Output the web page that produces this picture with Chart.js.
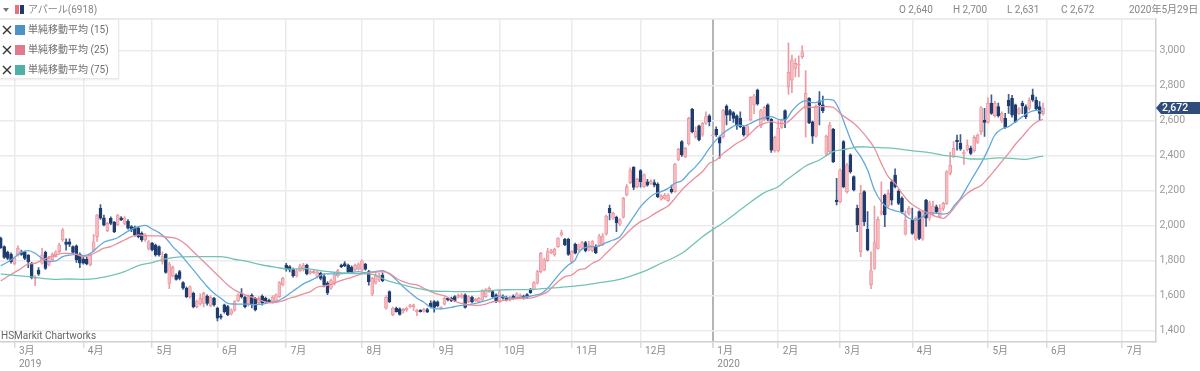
<!DOCTYPE html>
<html lang="ja">
<head>
<meta charset="utf-8">
<title>アパール(6918)</title>
<script src="https://cdn.jsdelivr.net/npm/chart.js@4"></script>
<style>
html,body{margin:0;padding:0;background:#fff;width:1200px;height:371px;overflow:hidden}
#wrap{position:relative;width:1200px;height:371px;font-family:Roboto,"Noto Sans CJK JP",sans-serif}
canvas{position:absolute;left:0;top:0}
.h{position:absolute;top:1.5px;font-size:10px;line-height:15px;color:#858585;white-space:nowrap}
#tri{position:absolute;left:3px;top:8px;width:0;height:0;border-left:3px solid transparent;border-right:3px solid transparent;border-top:4px solid #777}
#sw{position:absolute;left:15px;top:5px;width:9px;height:9px;background:linear-gradient(90deg,#e8707c 0 50%,#fff 50% 58%,#22396c 58% 100%)}
#legend{position:absolute;left:-1px;top:19px;width:120px;height:60px;background:#fff;border:1px solid #e8e8e8;box-shadow:0 1px 2px rgba(0,0,0,.08);box-sizing:border-box}
.row{position:absolute;left:0;height:20px;width:118px;color:#6e6e6e;font-size:10px;line-height:20px;white-space:nowrap}
.row svg{position:absolute;left:2px;top:5px}
.row i{position:absolute;left:15px;top:5px;width:10px;height:10px}
.row span{position:absolute;left:28px;top:0}
#credit{position:absolute;left:1px;top:329px;font-size:10px;line-height:14px;color:#666;white-space:nowrap}
</style>
</head>
<body>
<div id="wrap">
<canvas id="c" width="1200" height="371"></canvas>
<div id="tri"></div><div id="sw"></div>
<div class="h" style="left:28px">アパール(6918)</div>
<div class="h" style="left:899px">O 2,640</div>
<div class="h" style="left:953px">H 2,700</div>
<div class="h" style="left:1007px">L 2,631</div>
<div class="h" style="left:1061px">C 2,672</div>
<div class="h" style="left:1129px">2020年5月29日</div>
<div id="legend">
<div class="row" style="top:0"><svg width="10" height="10"><path d="M1 1L9 9M9 1L1 9" stroke="#333" stroke-width="1.4"/></svg><i style="background:#4a94c8"></i><span>単純移動平均 (15)</span></div>
<div class="row" style="top:20px"><svg width="10" height="10"><path d="M1 1L9 9M9 1L1 9" stroke="#333" stroke-width="1.4"/></svg><i style="background:#e07a8c"></i><span>単純移動平均 (25)</span></div>
<div class="row" style="top:39.5px"><svg width="10" height="10"><path d="M1 1L9 9M9 1L1 9" stroke="#333" stroke-width="1.4"/></svg><i style="background:#4fb0a5"></i><span>単純移動平均 (75)</span></div>
</div>
<div id="credit">HSMarkit Chartworks</div>
</div>
<script>
// Trading-day index of the first candle (day 0 is the first trading day of March 2019)
const firstDay = -4;
const opens = [
1927,1880,1847,1836,1781,1832,1847,1847,1832,1785,
1699,1746,1785,1847,1775,1804,1823,1851,1918,1908,
1908,1880,1884,1836,1809,1809,1775,1855,1937,2099,
2045,1971,2042,2019,2004,2045,2013,2026,1994,1990,
1988,1956,1918,1870,1899,1889,1880,1794,1836,1670,
1712,1718,1737,1674,1642,1594,1613,1537,1552,1556,
1598,1541,1585,1528,1484,1547,1537,1495,1518,1571,
1613,1591,1547,1602,1585,1560,1598,1585,1575,1566,
1566,1594,1661,1775,1766,1751,1712,1743,1747,1775,
1728,1731,1709,1728,1709,1670,1642,1670,1712,1775,
1783,1775,1762,1747,1751,1747,1781,1737,1608,1671,
1690,1718,1528,1623,1490,1528,1524,1514,1520,1537,
1537,1509,1516,1511,1520,1556,1566,1564,1527,1551,
1585,1585,1594,1591,1591,1604,1566,1591,1570,1566,
1575,1594,1623,1623,1604,1566,1598,1591,1575,1598,
1589,1594,1598,1606,1636,1636,1671,1737,1747,1800,
1846,1833,1880,1947,1922,1922,1794,1895,1861,1871,
1903,1861,1857,1880,1884,1890,1951,2099,2042,2048,
2008,2048,2175,2246,2333,2223,2314,2223,2251,2242,
2246,2238,2151,2156,2143,2208,2194,2379,2480,2394,
2467,2665,2509,2570,2518,2585,2627,2514,2550,2505,
2509,2684,2657,2646,2627,2613,2562,2518,2604,2690,
2775,2570,2604,2690,2608,2428,2428,2562,2657,2794,
2832,2899,2918,2966,2670,2728,2594,2512,2714,2690,
2409,2423,2550,2146,2137,2480,2194,2404,2280,2099,
1851,2194,1979,1661,1756,1870,2070,2175,2115,2251,
2289,2198,2156,1952,2070,2032,1922,2080,1922,2146,
2042,2066,2108,2051,2099,2127,2299,2394,2489,2471,
2408,2433,2442,2427,2476,2537,2604,2590,2699,2629,
2680,2598,2613,2718,2728,2690,2642,2699,2680,2671,
2747,2718,2680,2640];
const highs = [
1935,1885,1855,1845,1820,1885,1860,1855,1835,1790,
1715,1760,1870,1855,1825,1845,1856,1900,1985,1925,
1925,1885,1890,1845,1830,1820,1840,1950,2065,2120,
2060,2020,2050,2025,2065,2052,2052,2035,2000,1998,
1995,1965,1955,1915,1905,1895,1885,1850,1840,1790,
1770,1725,1745,1680,1650,1656,1620,1575,1610,1620,
1605,1600,1590,1535,1495,1552,1545,1525,1572,1610,
1640,1598,1605,1610,1590,1595,1605,1592,1580,1600,
1610,1680,1705,1785,1772,1758,1750,1780,1785,1780,
1745,1745,1745,1735,1720,1680,1695,1725,1750,1780,
1795,1780,1770,1780,1788,1805,1785,1745,1705,1730,
1728,1730,1600,1628,1535,1535,1530,1528,1535,1550,
1552,1522,1520,1527,1527,1570,1572,1570,1538,1590,
1590,1592,1600,1610,1612,1610,1600,1597,1585,1590,
1635,1640,1650,1630,1610,1630,1605,1597,1597,1605,
1617,1610,1603,1612,1642,1680,1745,1848,1815,1870,
1865,1872,1932,1975,1928,1928,1858,1900,1895,1910,
1910,1910,1915,1890,1950,1955,2060,2118,2078,2055,
2040,2162,2235,2330,2337,2272,2320,2296,2265,2262,
2262,2245,2178,2185,2182,2232,2356,2442,2486,2448,
2620,2670,2565,2575,2590,2650,2635,2522,2565,2512,
2665,2690,2665,2652,2633,2650,2570,2578,2738,2750,
2780,2665,2682,2696,2612,2512,2600,2610,2662,3045,
2975,2955,2970,3028,2886,2732,2598,2690,2766,2741,
2518,2590,2556,2270,2325,2486,2356,2410,2285,2118,
2230,2200,2080,1850,2112,2050,2250,2180,2205,2262,
2325,2205,2165,2085,2110,2100,2050,2085,2088,2150,
2140,2140,2118,2120,2135,2315,2420,2480,2518,2520,
2432,2490,2455,2515,2525,2680,2670,2730,2747,2710,
2700,2650,2642,2750,2745,2695,2675,2712,2690,2730,
2781,2735,2709,2700];
const lows = [
1870,1812,1805,1785,1775,1825,1830,1805,1760,1695,
1657,1715,1780,1750,1770,1795,1820,1845,1910,1860,
1880,1840,1790,1760,1780,1775,1770,1850,1910,2035,
1998,1965,2005,1960,2000,2028,2005,1980,1965,1940,
1930,1910,1910,1860,1855,1825,1825,1780,1728,1640,
1705,1688,1690,1635,1588,1585,1530,1530,1545,1535,
1545,1535,1540,1455,1465,1500,1485,1490,1510,1565,
1585,1530,1540,1530,1512,1550,1545,1560,1560,1555,
1560,1590,1655,1740,1735,1705,1705,1738,1740,1718,
1722,1725,1700,1690,1650,1605,1635,1660,1705,1760,
1765,1730,1730,1740,1745,1740,1745,1660,1600,1665,
1680,1680,1522,1560,1485,1505,1488,1500,1510,1530,
1515,1485,1505,1505,1502,1530,1505,1535,1522,1545,
1570,1565,1565,1585,1585,1528,1560,1558,1565,1560,
1570,1590,1618,1590,1560,1560,1580,1570,1570,1580,
1584,1590,1580,1586,1612,1632,1665,1730,1742,1795,
1840,1825,1875,1940,1885,1830,1785,1838,1855,1865,
1850,1855,1850,1840,1880,1885,1945,2032,2036,1965,
2000,2042,2170,2240,2205,2216,2220,2218,2225,2235,
2222,2160,2145,2150,2138,2185,2190,2372,2395,2388,
2460,2530,2498,2484,2510,2578,2570,2510,2510,2385,
2500,2575,2600,2590,2550,2560,2512,2512,2598,2640,
2688,2560,2598,2600,2418,2420,2422,2555,2560,2750,
2760,2850,2850,2955,2505,2583,2470,2505,2575,2645,
2400,2415,2360,2118,2130,2215,2185,2300,2198,1965,
1822,2000,1855,1640,1750,1865,2060,1994,2105,2118,
2215,2120,2070,1945,2060,1950,1915,1920,1915,1995,
2030,2055,2070,2045,2085,2120,2290,2388,2432,2430,
2350,2425,2405,2420,2470,2520,2510,2585,2635,2620,
2620,2590,2555,2642,2620,2588,2635,2640,2612,2660,
2710,2660,2604,2631];
const closes = [
1874,1819,1813,1794,1813,1870,1836,1813,1794,1703,
1708,1722,1832,1756,1813,1836,1851,1889,1975,1893,
1893,1847,1804,1785,1785,1781,1832,1908,2061,2042,
2003,2013,2013,1965,2061,2032,2045,1985,1975,1946,
1937,1918,1946,1908,1861,1832,1832,1823,1733,1781,
1762,1693,1699,1642,1594,1651,1537,1566,1585,1613,
1556,1591,1547,1471,1476,1509,1490,1518,1566,1604,
1594,1537,1598,1547,1518,1585,1560,1566,1566,1591,
1604,1674,1699,1751,1747,1712,1741,1770,1775,1724,
1737,1739,1735,1699,1661,1617,1686,1718,1743,1766,
1770,1737,1737,1773,1781,1798,1751,1680,1699,1718,
1718,1686,1591,1566,1528,1509,1493,1522,1528,1543,
1547,1516,1509,1520,1507,1537,1533,1541,1533,1585,
1575,1570,1570,1602,1604,1533,1594,1564,1579,1585,
1629,1633,1642,1594,1566,1623,1585,1575,1591,1585,
1610,1602,1585,1591,1617,1674,1737,1842,1804,1852,
1857,1865,1928,1960,1890,1836,1852,1842,1890,1903,
1857,1890,1909,1846,1941,1941,2055,2074,2070,2017,
2033,2156,2223,2318,2219,2265,2251,2290,2232,2253,
2232,2166,2170,2175,2175,2194,2352,2436,2404,2442,
2613,2537,2537,2490,2585,2623,2594,2518,2518,2471,
2657,2632,2632,2613,2570,2566,2518,2570,2733,2741,
2695,2657,2676,2608,2432,2505,2556,2604,2604,2876,
2947,2928,2924,2994,2756,2589,2512,2684,2690,2657,
2512,2575,2366,2137,2318,2223,2346,2308,2204,2004,
2185,2023,1861,1743,1903,2036,2080,2061,2185,2146,
2223,2127,2080,2032,2099,1956,2042,1927,2080,2042,
2131,2112,2080,2099,2127,2308,2346,2442,2480,2438,
2417,2457,2413,2505,2518,2674,2590,2699,2642,2699,
2629,2642,2560,2686,2632,2594,2667,2686,2623,2718,
2718,2667,2642,2672];

const ma15Days = [-4,-1,2,4,6,8,10,12,14,16,18,20,22,24,26,28,30,32,34,36,38,40,42,44,46,48,50,52,54,56,58,60,62,64,66,68,70,72,74,76,78,80,82,84,86,88,90,92,94,96,98,100,102,104,107,109,111,113,115,117,119,121,123,125,127,129,131,133,135,137,139,141,143,145,147,149,151,153,155,157,159,161,163,164,166,168,170,172,174,176,178,180,182,184,186,188,190,192,194,196,198,200,202,204,206,208,210,212,214,216,218,220,222,224,226,228,230,232,234,236,238,240,242,244,246,248,250,252,254,256,258,260,262,264,266,268,270,272,273,275,277,279,281,283,285,287,289,291,293,295,297,299];
const ma15Vals = [1770,1804,1847,1857,1842,1813,1794,1798,1823,1832,1836,1829,1840,1874,1905,1918,1931,1956,1979,1994,2002,1981,1960,1928,1880,1842,1794,1747,1699,1652,1613,1585,1556,1552,1551,1551,1549,1551,1560,1566,1585,1612,1640,1667,1686,1705,1724,1724,1724,1728,1731,1737,1731,1735,1743,1724,1690,1651,1617,1585,1562,1533,1524,1526,1533,1541,1546,1552,1560,1571,1585,1598,1590,1585,1590,1594,1602,1610,1642,1690,1737,1775,1804,1846,1876,1880,1884,1903,1918,1937,1994,2051,2109,2150,2181,2194,2213,2242,2257,2299,2337,2385,2442,2490,2528,2556,2575,2570,2585,2604,2618,2623,2608,2605,2655,2695,2714,2703,2708,2722,2718,2651,2546,2451,2394,2318,2204,2137,2099,2085,2074,2042,2032,2051,2074,2070,2066,2080,2110,2156,2223,2290,2356,2433,2518,2552,2566,2594,2623,2648,2659,2652];
const ma25Days = [-4,-2,0,2,4,6,8,10,12,14,16,18,20,22,24,26,28,30,32,34,36,38,40,42,44,46,48,50,52,54,56,58,60,62,64,66,68,70,72,74,76,78,80,82,84,86,88,90,92,94,96,98,100,102,104,107,109,111,113,115,117,119,121,123,125,127,129,131,133,135,137,139,141,143,145,147,149,151,153,155,156,158,160,162,164,166,168,170,172,174,176,178,180,182,184,186,188,190,192,194,196,198,200,202,204,206,208,210,212,214,216,218,220,222,224,226,228,230,232,234,236,238,240,242,244,246,248,250,252,254,256,258,260,262,264,266,268,270,272,275,277,279,281,283,285,287,289,291,293,295,297,299];
const ma25Vals = [1684,1709,1733,1756,1781,1785,1804,1819,1832,1842,1842,1836,1823,1832,1851,1871,1880,1899,1918,1937,1947,1943,1941,1941,1935,1931,1918,1889,1851,1813,1775,1737,1699,1661,1632,1613,1598,1585,1570,1560,1562,1570,1585,1596,1610,1623,1648,1655,1665,1680,1693,1705,1718,1728,1733,1737,1727,1699,1680,1667,1661,1642,1623,1609,1598,1579,1560,1552,1546,1544,1552,1565,1569,1575,1581,1585,1585,1590,1604,1623,1642,1680,1709,1718,1747,1756,1785,1804,1842,1880,1918,1956,1994,2023,2042,2067,2090,2112,2156,2204,2242,2276,2309,2356,2375,2413,2442,2471,2493,2528,2566,2585,2594,2585,2585,2613,2651,2680,2676,2680,2680,2676,2642,2613,2585,2546,2499,2442,2356,2280,2242,2185,2137,2108,2085,2070,2051,2042,2074,2147,2185,2210,2229,2271,2318,2366,2413,2465,2509,2556,2591,2608];
const ma75Days = [-4,0,4,8,12,16,20,24,28,32,36,40,44,48,52,56,60,64,68,72,76,80,84,88,92,96,100,104,108,113,117,121,126,130,135,140,145,150,155,160,164,170,176,182,188,194,200,206,212,218,222,224,227,230,234,238,242,246,250,254,258,262,266,270,274,278,282,286,290,294,298,299];
const ma75Vals = [1724,1716,1709,1699,1693,1695,1693,1699,1714,1737,1772,1789,1810,1821,1823,1823,1823,1808,1794,1775,1762,1751,1756,1745,1735,1729,1726,1722,1689,1661,1642,1628,1624,1623,1624,1632,1634,1636,1642,1650,1657,1674,1693,1731,1785,1842,1937,2017,2105,2189,2222,2255,2298,2341,2375,2423,2438,2451,2447,2444,2436,2426,2417,2402,2394,2381,2381,2387,2385,2379,2394,2396];

const yTickValues = [1400,1600,1800,2000,2200,2400,2600,2800,3000];
const monthStartDays = [0,20,40,59,79,101,122,141,162,182,203,222,240,261,283,300,322];
const monthLabels = ['3月','4月','5月','6月','7月','8月','9月','10月','11月','12月','1月','2月','3月','4月','5月','6月','7月'];
const yearLabels = {0:'2019',203:'2020'};
const cursorDay = 203;

const UP_FILL = '#f5b9bf', UP_EDGE = '#e98f99', UP_WICK = '#ee9aa4';
const DOWN_FILL = '#1f3c6f', DOWN_WICK = '#3f5d8d';
const isUp = k => closes[k] >= opens[k];
const dayOf = k => firstDay + k;

const wickData = highs.map((h,k)=>({x:dayOf(k),y:[lows[k],h]}));
const bodyData = opens.map((o,k)=>({x:dayOf(k),y:[Math.min(o,closes[k]),Math.max(o,closes[k])]}));
const toLine = (days,vals)=>days.map((d,k)=>({x:d,y:vals[k]}));
const lineDs = (label,days,vals,color,order)=>({type:'line',label,data:toLine(days,vals),borderColor:color,borderWidth:1.3,pointRadius:0,cubicInterpolationMode:'monotone',order,clip:false});

const frame = {
  id:'frame',
  beforeDatasetsDraw(ch){
    const {ctx,chartArea:a}=ch;
    ctx.save();ctx.strokeStyle='#e6e6e6';ctx.lineWidth=1.5;
    ctx.beginPath();ctx.moveTo(0,a.top);ctx.lineTo(a.right,a.top);ctx.stroke();ctx.restore();
  },
  afterDraw(ch){
    const {ctx}=ch;
    const last=closes[closes.length-1];
    const y=ch.scales.y.getPixelForValue(last);
    ctx.save();
    ctx.fillStyle='#2f4c7b';
    ctx.beginPath();ctx.moveTo(1156,y);ctx.lineTo(1161,y-6);ctx.lineTo(1200,y-6);ctx.lineTo(1200,y+6);ctx.lineTo(1161,y+6);ctx.closePath();ctx.fill();
    ctx.fillStyle='#fff';ctx.font='500 10.5px Roboto';ctx.textAlign='left';ctx.textBaseline='middle';
    ctx.fillText(last.toLocaleString('en-US'),1162,y+0.5);
    ctx.restore();
  }
};

new Chart(document.getElementById('c'),{
  type:'bar',
  plugins:[frame],
  data:{datasets:[
    lineDs('単純移動平均 (75)',ma75Days,ma75Vals,'#72c3b4',1),
    lineDs('単純移動平均 (25)',ma25Days,ma25Vals,'#e98f9b',1),
    lineDs('単純移動平均 (15)',ma15Days,ma15Vals,'#62a9da',1),
    {type:'bar',label:'body',data:bodyData,barThickness:3,grouped:false,order:2,
     backgroundColor:c=>isUp(c.dataIndex)?UP_FILL:DOWN_FILL,
     borderColor:c=>isUp(c.dataIndex)?UP_EDGE:DOWN_FILL,borderWidth:0.7,borderSkipped:false},
    {type:'bar',label:'wick',data:wickData,barThickness:1,grouped:false,order:3,
     backgroundColor:c=>isUp(c.dataIndex)?UP_WICK:DOWN_WICK,borderWidth:0}
  ]},
  options:{
    responsive:false,animation:false,
    layout:{padding:{top:19,left:0,right:0,bottom:0}},
    plugins:{legend:{display:false},tooltip:{enabled:false}},
    scales:{
      x:{type:'linear',offset:false,min:-4.215,max:331.7,
        afterBuildTicks(ax){ax.ticks=monthStartDays.map(v=>({value:v}));},
        afterFit(ax){ax.height=29;},
        grid:{offset:false,tickLength:6,lineWidth:c=>c.tick&&c.tick.value===cursorDay?2:1.5,
          color:c=>c.tick&&c.tick.value===cursorDay?'#b5b5b5':'#ebebeb',tickColor:'#dcdcdc'},
        border:{color:'#cfcfcf',width:1.5},
        ticks:{autoSkip:false,maxRotation:0,minRotation:0,align:'start',labelOffset:4.5,padding:-3,color:'#8a8a8a',
          font:{family:'Roboto,"Noto Sans CJK JP"',size:10,lineHeight:1.27},
          callback(v,i){const m=monthLabels[i];return yearLabels[v]?[m,yearLabels[v]]:m;}}
      },
      y:{position:'right',min:1335,max:3181,
        afterBuildTicks(ax){ax.ticks=yTickValues.map(v=>({value:v}));},
        afterFit(ax){ax.width=44.5;},
        grid:{drawTicks:false,color:'#ebebeb',lineWidth:1.5},
        border:{color:'#cfcfcf',width:1.5},
        ticks:{padding:4,color:'#9b9b9b',font:{family:'Roboto',size:10.5},
          callback:v=>v.toLocaleString('en-US')}
      }
    }
  }
});
</script>
</body>
</html>
